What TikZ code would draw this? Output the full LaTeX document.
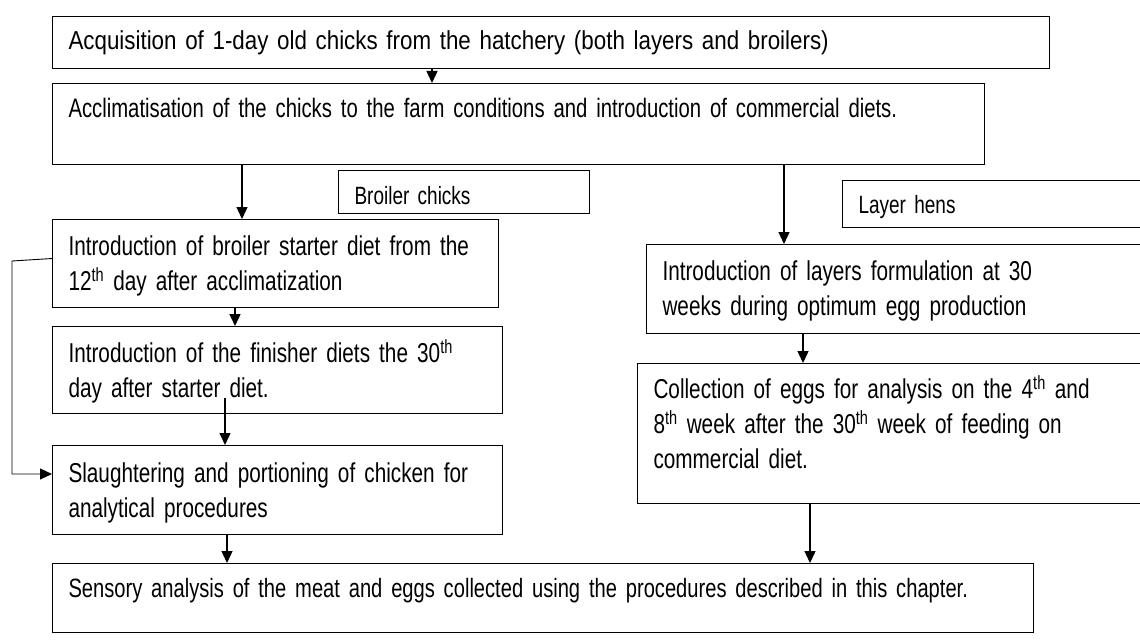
\documentclass[tikz,border=0pt]{standalone}
\usepackage{fontspec}
\setmainfont{Liberation Sans}
\newfontfamily\narrowsans[FakeStretch=0.76]{Liberation Sans}
\newfontfamily\halfnarrowsans[FakeStretch=0.86]{Liberation Sans}
\usetikzlibrary{positioning,arrows.meta}

\begin{document}
\begin{tikzpicture}[
  x=1pt, y=-1pt,
  flowbox/.style={draw,line width=1pt,anchor=north west,align=left,
    inner xsep=16pt,inner ysep=0pt,font=\narrowsans\fontsize{27.3}{35}\selectfont},
  tagbox/.style={flowbox,font=\narrowsans\fontsize{25}{35}\selectfont},
  flow/.style={-{Triangle[length=12pt,width=11pt]},line width=1.4pt},
  back/.style={-{Triangle[length=12pt,width=11pt]},line width=0.9pt}
]
\useasboundingbox (0,0) rectangle (1140,642);

% top of the chart
\node[flowbox,font=\halfnarrowsans\fontsize{26}{35}\selectfont,text width=965pt,text height=33pt,text depth=19pt] (acq) at (52,16)
  {Acquisition of 1-day old chicks from the hatchery (both layers and broilers)};
\node[flowbox,font=\narrowsans\fontsize{26.7}{35}\selectfont,text width=900pt,text height=34pt,text depth=47pt] (accl) at (52,83)
  {Acclimatisation of the chicks to the farm conditions and introduction of commercial diets.};

% broiler side
\node[tagbox,text width=219pt,text height=34pt,text depth=9pt] (broiler) at (338,170) {Broiler chicks};
\node[flowbox,text width=414pt,text height=36pt,text depth=52pt] (starter) at (52,219)
  {Introduction of broiler starter diet from the\\12\textsuperscript{th} day after acclimatization};
\node[flowbox,text width=418pt,text height=36pt,text depth=51pt] (finisher) at (52,326)
  {Introduction of the finisher diets the 30\textsuperscript{th}\\day after starter diet.};
\node[flowbox,text width=418pt,text height=37pt,text depth=52pt] (slaughter) at (52,445)
  {Slaughtering and portioning of chicken for\\analytical procedures};

% layer side
\node[tagbox,text width=271pt,text height=33pt,text depth=14pt] (layer) at (842,180) {Layer hens};
\node[flowbox,text width=467pt,text height=36pt,text depth=53pt] (formula) at (646,244)
  {Introduction of layers formulation at 30\\weeks during optimum egg production};
\node[flowbox,text width=476pt,text height=35pt,text depth=105pt] (eggs) at (637,363)
  {Collection of eggs for analysis on the 4\textsuperscript{th} and\\8\textsuperscript{th} week after the 30\textsuperscript{th} week of feeding on\\commercial diet.};

% bottom
\node[flowbox,font=\narrowsans\fontsize{26.5}{35}\selectfont,text width=949pt,text height=34pt,text depth=35pt] (sensory) at (52,563)
  {Sensory analysis of the meat and eggs collected using the procedures described in this chapter.};

\coordinate (inside) at (225,398);
\coordinate (corner) at (12,261);

\draw[flow] (acq.south -| 432,0) -- (accl.north -| 432,0);
\draw[flow] (accl.south -| 242,0) -- (starter.north -| 242,0);
\draw[flow] (accl.south -| 784,0) -- (formula.north -| 784,0);
\draw[flow] (starter.south -| 235,0) -- (finisher.north -| 235,0);
\draw[flow] (inside) -- (slaughter.north -| inside);
\draw[flow] (slaughter.south -| 227,0) -- (sensory.north -| 227,0);
\draw[flow] (formula.south -| 803,0) -- (eggs.north -| 803,0);
\draw[flow] (eggs.south -| 810,0) -- (sensory.north -| 810,0);
\draw[back] ([yshift=5pt]starter.west) -- (corner) |- ([yshift=16pt]slaughter.west);
\end{tikzpicture}
\end{document}
